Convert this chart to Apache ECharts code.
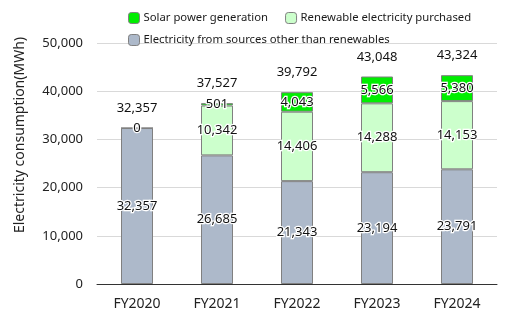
<!DOCTYPE html>
<html>
<head>
<meta charset="utf-8">
<script src="https://cdn.jsdelivr.net/npm/echarts@6/dist/echarts.min.js"></script>
<style>
  html, body { margin: 0; padding: 0; background: #fff; }
  #chart { width: 512px; height: 321px; }
</style>
</head>
<body>
<div id="chart"></div>
<script>
// Fiscal years and electricity consumption (MWh) by source
const categories = ['FY2020', 'FY2021', 'FY2022', 'FY2023', 'FY2024'];
const otherSources = [32357, 26685, 21343, 23194, 23791];
const renewablePurchased = [0, 10342, 14406, 14288, 14153];
const solarGeneration = [null, 501, 4043, 5566, 5380];
const totals = [32357, 37527, 39792, 43048, 43324];
const yTicks = { min: 0, max: 50000, interval: 10000 };

const FONT = '"Noto Sans", sans-serif';
const edge = '#808080';

const fmt = v => (v == null ? '' : Number(v).toLocaleString('en-US'));

const insideLabel = {
  show: true,
  position: 'inside',
  color: '#111',
  fontFamily: FONT,
  fontSize: 13,
  textBorderColor: '#fff',
  textBorderWidth: 2.5,
  formatter: p => fmt(p.value)
};

const legendText = { fontFamily: FONT, fontSize: 11.3, color: '#1a1a1a', padding: [0, 0, 0, -1] };

const chart = echarts.init(document.getElementById('chart'), null, { renderer: 'canvas' });

chart.setOption({
  animation: false,
  grid: { left: 97, right: 15, top: 43, bottom: 37 },
  legend: [
    {
      data: ['Solar power generation', 'Renewable electricity purchased'],
      orient: 'horizontal', left: 123, top: 7, width: 380,
      itemWidth: 11, itemHeight: 11, itemGap: 17,
      itemStyle: { borderColor: edge, borderWidth: 1 },
      textStyle: legendText
    },
    {
      data: ['Electricity from sources other than renewables'],
      orient: 'horizontal', left: 123, top: 29, width: 380,
      itemWidth: 11, itemHeight: 11,
      itemStyle: { borderColor: edge, borderWidth: 1 },
      textStyle: legendText
    }
  ],
  graphic: [{
    type: 'text',
    x: 20, y: 135,
    rotation: Math.PI / 2,
    style: {
      text: 'Electricity consumption(MWh)',
      fontFamily: FONT, fontSize: 14, fill: '#222',
      align: 'center', verticalAlign: 'middle'
    }
  }],
  xAxis: {
    type: 'category',
    data: categories,
    axisTick: { show: false },
    axisLine: { lineStyle: { color: '#333', width: 1 } },
    axisLabel: { fontFamily: FONT, fontSize: 14, color: '#222', margin: 13 }
  },
  yAxis: {
    type: 'value',
    min: yTicks.min, max: yTicks.max, interval: yTicks.interval,
    axisLabel: { fontFamily: FONT, fontSize: 13, color: '#222', margin: 14, formatter: v => fmt(v) },
    splitLine: { lineStyle: { color: '#d9d9d9' } }
  },
  series: [
    {
      name: 'Electricity from sources other than renewables',
      type: 'bar', stack: 'total', barWidth: 32,
      data: otherSources,
      itemStyle: { color: '#adb9ca', borderColor: edge, borderWidth: 1 },
      label: insideLabel
    },
    {
      name: 'Renewable electricity purchased',
      type: 'bar', stack: 'total', barWidth: 32,
      data: renewablePurchased,
      itemStyle: { color: '#ccffcc', borderColor: edge, borderWidth: 1 },
      label: insideLabel
    },
    {
      name: 'Solar power generation',
      type: 'bar', stack: 'total', barWidth: 32,
      data: solarGeneration,
      itemStyle: { color: '#00ee00', borderColor: edge, borderWidth: 1 },
      label: insideLabel
    },
    {
      // bar totals, written just above each stack
      name: 'Total',
      type: 'scatter',
      data: totals,
      symbolSize: 2,
      itemStyle: { color: 'rgba(0,0,0,0)', opacity: 1 },
      silent: true,
      z: 5,
      label: {
        show: true, position: 'top', distance: 12,
        color: '#111', opacity: 1, fontFamily: FONT, fontSize: 13,
        formatter: p => fmt(p.value)
      }
    }
  ]
});
</script>
</body>
</html>
